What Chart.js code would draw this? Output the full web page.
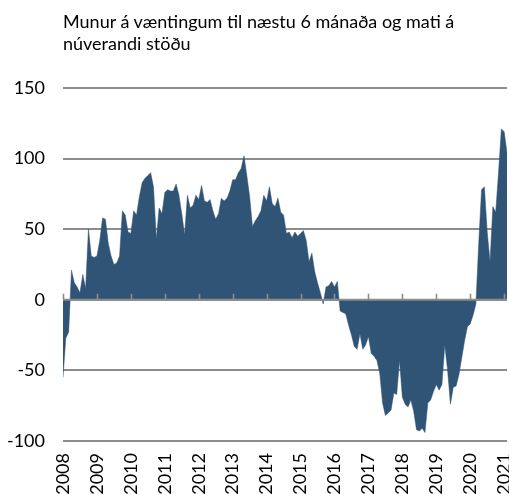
<!DOCTYPE html>
<html><head><meta charset="utf-8">
<script src="https://cdn.jsdelivr.net/npm/chart.js@4/dist/chart.umd.min.js"></script>
<style>
html,body{margin:0;padding:0;background:#fff;}
#wrap{position:relative;width:509px;height:494px;overflow:hidden;}
#title{position:absolute;left:63px;top:10px;font-family:Lato;font-size:18px;line-height:22px;color:#000;white-space:nowrap;}
canvas{position:absolute;left:0;top:0;}
</style></head><body>
<div id="wrap"><canvas id="c" width="509" height="494"></canvas>
<div id="title">Munur á væntingum til næstu 6 mánaða og mati á<br>núverandi stöðu</div></div>
<script>
const years = ['2008','2009','2010','2011','2012','2013','2014','2015','2016','2017','2018','2019','2020','2021'];
const yTicks = [-100, -50, 0, 50, 100, 150];
// monthly values, Jan 2008 - Feb 2021
const v2008 = [-55, -27, -23, 21, 12, 9, 5, 18, 8, 50, 31, 30];
const v2009 = [31, 42, 58, 57, 40, 31, 25, 26, 31, 63, 60, 48];
const v2010 = [47, 63, 60, 73, 83, 86, 88, 90, 80, 43, 65, 61];
const v2011 = [76, 78, 77, 77, 82, 74, 61, 46, 74, 65, 67, 74];
const v2012 = [71, 81, 70, 69, 71, 63, 57, 61, 72, 70, 72, 77];
const v2013 = [85, 85, 90, 93, 102, 88, 73, 52, 56, 59, 63, 74];
const v2014 = [70, 80, 68, 66, 72, 62, 60, 47, 48, 44, 48, 45];
const v2015 = [47, 49, 42, 27, 33, 20, 12, 5, -3, 9, 10, 13];
const v2016 = [9, 13, -8, -9, -10, -18, -25, -33, -35, -24, -35, -32];
const v2017 = [-26, -38, -40, -43, -52, -73, -82, -80, -78, -66, -67, -43];
const v2018 = [-69, -74, -76, -71, -79, -92, -93, -91, -94, -73, -71, -65];
const v2019 = [-60, -64, -60, -32, -50, -74, -62, -61, -53, -41, -29, -19];
const v2020 = [-17, -11, -3, 40, 78, 80, 48, 27, 66, 62, 90, 121];
const v2021 = [119, 104];

const values = [].concat(v2008, v2009, v2010, v2011, v2012, v2013, v2014, v2015, v2016, v2017, v2018, v2019, v2020, v2021);
const labels = values.map((_, i) => (i % 12 === 0 ? years[i / 12] : ''));

const FILL = '#2f5476';
const GRID = '#8c8c8c';

const zeroAxis = {
  id: 'zeroAxis',
  afterDatasetsDraw(chart) {
    const { ctx, chartArea, scales: { x, y } } = chart;
    const y0 = y.getPixelForValue(0);
    ctx.save();
    ctx.strokeStyle = GRID;
    ctx.lineWidth = 2;
    ctx.beginPath();
    ctx.moveTo(chartArea.left, y0);
    ctx.lineTo(chartArea.right, y0);
    ctx.stroke();
    ctx.lineWidth = 1.6;
    ctx.beginPath();
    labels.forEach((l, i) => {
      if (l) {
        const px = Math.round(x.getPixelForValue(i)) + 0.5;
        ctx.moveTo(px, y0);
        ctx.lineTo(px, y0 - 6);
      }
    });
    ctx.stroke();
    ctx.restore();
  }
};

Chart.defaults.font.family = 'Lato';
Chart.defaults.font.size = 18;
Chart.defaults.color = '#000';

new Chart(document.getElementById('c'), {
  type: 'line',
  data: {
    labels: labels,
    datasets: [{
      data: values,
      fill: 'origin',
      backgroundColor: FILL,
      borderColor: FILL,
      borderWidth: 0.5,
      pointRadius: 0,
      tension: 0
    }]
  },
  options: {
    responsive: false,
    animation: false,
    devicePixelRatio: 1,
    layout: { padding: { top: 88, right: 2, bottom: 0, left: 0 } },
    plugins: { legend: { display: false }, tooltip: { enabled: false }, title: { display: false } },
    scales: {
      x: {
        type: 'category',
        offset: false,
        grid: { display: false, drawTicks: false },
        border: { display: false },
        ticks: {
          autoSkip: false,
          minRotation: 90,
          maxRotation: 90,
          padding: 12,
          font: { size: 18 }
        },
        afterFit(scale) {
          scale.height = 53;
          scale.paddingLeft = 0;
          scale.paddingRight = 0;
        }
      },
      y: {
        min: yTicks[0],
        max: yTicks[yTicks.length - 1],
        grid: { color: GRID, lineWidth: 2, drawTicks: false },
        border: { display: false },
        afterBuildTicks(scale) {
          scale.ticks = yTicks.map(v => ({ value: v }));
        },
        ticks: {
          padding: 18,
          font: { size: 18 }
        },
        afterFit(scale) {
          scale.width = 63;
        }
      }
    }
  },
  plugins: [zeroAxis]
});
</script>
</body></html>
